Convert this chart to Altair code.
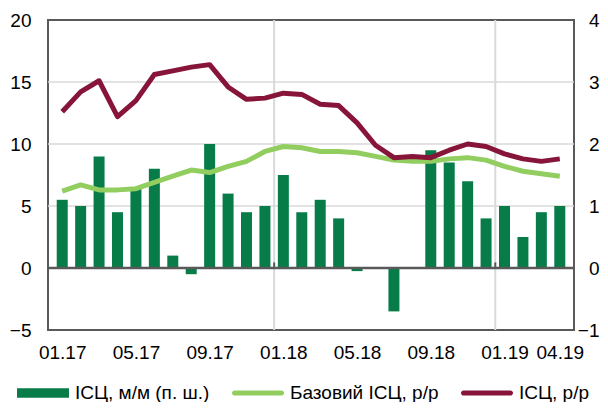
import altair as alt
import pandas as pd

months = ["01.17", "02.17", "03.17", "04.17", "05.17", "06.17", "07.17", "08.17",
          "09.17", "10.17", "11.17", "12.17", "01.18", "02.18", "03.18", "04.18",
          "05.18", "06.18", "07.18", "08.18", "09.18", "10.18", "11.18", "12.18",
          "01.19", "02.19", "03.19", "04.19"]
cpi_mm = [1.1, 1.0, 1.8, 0.9, 1.3, 1.6, 0.2, -0.1, 2.0, 1.2, 0.9, 1.0,
          1.5, 0.9, 1.1, 0.8, -0.05, 0.0, -0.7, 0.0, 1.9, 1.7, 1.4, 0.8,
          1.0, 0.5, 0.9, 1.0]
core_yy = [6.2, 6.7, 6.3, 6.3, 6.4, 6.9, 7.4, 7.9, 7.7, 8.2, 8.6, 9.4,
           9.8, 9.7, 9.4, 9.4, 9.3, 9.0, 8.7, 8.6, 8.6, 8.8, 8.9, 8.7,
           8.2, 7.8, 7.6, 7.4]
cpi_yy = [12.6, 14.2, 15.1, 12.2, 13.5, 15.6, 15.9, 16.2, 16.4, 14.6, 13.6, 13.7,
          14.1, 14.0, 13.2, 13.1, 11.7, 9.9, 8.9, 9.0, 8.9, 9.5, 10.0, 9.8,
          9.2, 8.8, 8.6, 8.8]
series_names = ["ІСЦ, м/м (п. ш.)", "Базовий ІСЦ, р/р", "ІСЦ, р/р"]
colors = ["#077c48", "#92cd60", "#871539"]
tick_idx = [0, 4, 8, 12, 16, 20, 24, 27]
left_ticks = [-5, 0, 5, 10, 15, 20]
right_ticks = [-1, 0, 1, 2, 3, 4]
grid_right = [1, 2, 3]
vgrid_idx = [11.5, 23.5]

FONT = "Liberation Sans"

idx = list(range(len(months)))
bars_df = pd.DataFrame({"i": idx, "v": cpi_mm, "s": series_names[0]})
lines_df = pd.concat([
    pd.DataFrame({"i": idx, "v": core_yy, "s": series_names[1]}),
    pd.DataFrame({"i": idx, "v": cpi_yy, "s": series_names[2]}),
])
legend_df = pd.DataFrame({"s": series_names})

xscale = alt.Scale(domain=[-0.5, len(months) - 0.5], nice=False, zero=False)
rscale = alt.Scale(domain=[-1, 4], nice=False, zero=False)
lscale = alt.Scale(domain=[-5, 20], nice=False, zero=False)
cscale = alt.Scale(domain=series_names, range=colors)

bar_sym = "M-1,-0.18H1V0.18H-1Z"
line_sym = "M-0.9,-0.1H0.9A0.1,0.1 0 0 1 0.9,0.1H-0.9A0.1,0.1 0 0 1 -0.9,-0.1Z"
sscale = alt.Scale(domain=series_names, range=[bar_sym, line_sym, line_sym])

label_expr = "[" + ",".join("'" + m + "'" for m in months) + "][datum.value]"

legend = alt.Legend(
    orient="none", legendX=-31, legendY=347, direction="horizontal", title=None,
    symbolSize=2704, labelFont=FONT, labelFontSize=19, labelColor="black",
    labelOffset=6, columnPadding=22, symbolStrokeWidth=0, symbolOpacity=1,
)

xaxis = alt.Axis(values=tick_idx, labelExpr=label_expr, grid=False,
                 domain=False, ticks=False, labelPadding=13,
                 labelFont=FONT, labelFontSize=19, labelColor="black")
raxis = alt.Axis(orient="right", values=right_ticks, grid=False,
                 domain=False, ticks=False, labelPadding=25, labelAlign="right",
                 labelFont=FONT, labelFontSize=19, labelColor="black")
laxis = alt.Axis(orient="left", values=left_ticks, grid=False,
                 domain=False, ticks=False, labelPadding=17,
                 labelFont=FONT, labelFontSize=19, labelColor="black")

hgrid = alt.Chart(pd.DataFrame({"g": grid_right})).mark_rule(
    color="#d9d9d9", strokeWidth=1.5).encode(
    y=alt.Y("g:Q", scale=rscale, axis=raxis, title=None))
vgrid = alt.Chart(pd.DataFrame({"x": vgrid_idx})).mark_rule(
    color="#d9d9d9", strokeWidth=2).encode(
    x=alt.X("x:Q", scale=xscale, axis=xaxis, title=None))

bars = alt.Chart(bars_df).mark_bar(size=11).encode(
    x=alt.X("i:Q", scale=xscale, title=None, axis=xaxis),
    y=alt.Y("v:Q", scale=rscale, title=None, axis=raxis),
    color=alt.Color("s:N", scale=cscale, legend=legend),
)

zero = alt.Chart(pd.DataFrame({"z": [0]})).mark_rule(
    color="#595959", strokeWidth=2.5).encode(
    y=alt.Y("z:Q", scale=rscale, axis=raxis, title=None))
zticks = alt.Chart(pd.DataFrame({"x": vgrid_idx, "y0": [0, 0], "y1": [0.09, 0.09]})).mark_rule(
    color="#595959", strokeWidth=2).encode(
    x=alt.X("x:Q", scale=xscale, axis=xaxis, title=None),
    y=alt.Y("y0:Q", scale=rscale, axis=raxis, title=None), y2="y1:Q")

bar_group = alt.layer(hgrid, vgrid, bars, zero, zticks)

lines = alt.Chart(lines_df).mark_line(strokeWidth=5, strokeJoin="round").encode(
    x=alt.X("i:Q", scale=xscale, axis=xaxis, title=None),
    y=alt.Y("v:Q", scale=lscale, title=None, axis=laxis),
    color=alt.Color("s:N", scale=cscale, legend=legend),
    detail="s:N",
)

legend_layer = alt.Chart(legend_df).mark_point(filled=True, opacity=0).encode(
    color=alt.Color("s:N", scale=cscale, legend=legend),
    shape=alt.Shape("s:N", scale=sscale, legend=legend),
)

chart = alt.layer(legend_layer, bar_group, lines).resolve_scale(y="independent").properties(
    width=526, height=310,
    padding={"left": 40, "top": 12, "right": 26, "bottom": 72},
    autosize=alt.AutoSizeParams(type="none"),
).configure_view(stroke="#595959", strokeWidth=2)

chart.save("out.html", embed_options={"renderer": "svg", "actions": False})
